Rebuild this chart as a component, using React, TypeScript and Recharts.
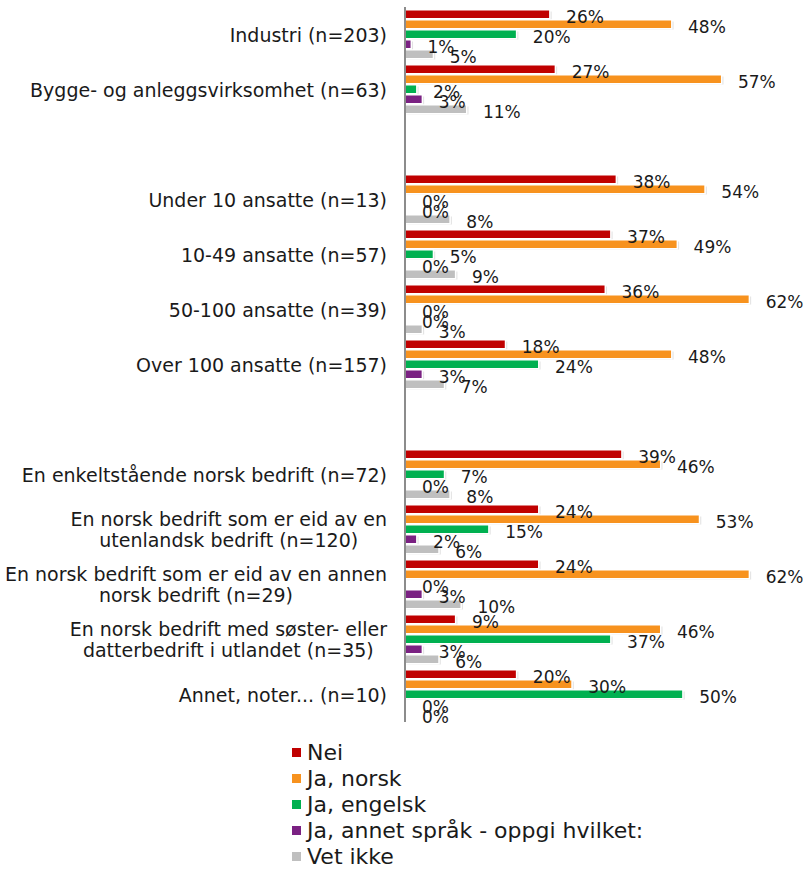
import React from "react";
import { BarChart, Bar, XAxis, YAxis, LabelList } from "recharts";

// Kategorier (tomme rader gir mellomrom mellom gruppene)
const categories = [
  "Industri (n=203)",
  "Bygge- og anleggsvirksomhet (n=63)",
  " ",
  "Under 10 ansatte (n=13)",
  "10-49 ansatte (n=57)",
  "50-100 ansatte (n=39)",
  "Over 100 ansatte (n=157)",
  "  ",
  "En enkeltstående norsk bedrift (n=72)",
  "En norsk bedrift som er eid av en\nutenlandsk bedrift (n=120)",
  "En norsk bedrift som er eid av en annen\nnorsk bedrift (n=29)",
  "En norsk bedrift med søster- eller\ndatterbedrift i utlandet (n=35)",
  "Annet, noter... (n=10)",
];

const nei = [26, 27, null, 38, 37, 36, 18, null, 39, 24, 24, 9, 20];
const jaNorsk = [48, 57, null, 54, 49, 62, 48, null, 46, 53, 62, 46, 30];
const jaEngelsk = [20, 2, null, 0, 5, 0, 24, null, 7, 15, 0, 37, 50];
const jaAnnet = [1, 3, null, 0, 0, 0, 3, null, 0, 2, 3, 3, 0];
const vetIkke = [5, 11, null, 8, 9, 3, 7, null, 8, 6, 10, 6, 0];

const series = [
  { key: "nei", name: "Nei", color: "#C00000", values: nei },
  { key: "jaNorsk", name: "Ja, norsk", color: "#F7921E", values: jaNorsk },
  { key: "jaEngelsk", name: "Ja, engelsk", color: "#00B050", values: jaEngelsk },
  { key: "jaAnnet", name: "Ja, annet språk - oppgi hvilket:", color: "#7A2182", values: jaAnnet },
  { key: "vetIkke", name: "Vet ikke", color: "#BFBFBF", values: vetIkke },
];

const data = categories.map((name, i) => {
  const row: Record<string, any> = { name };
  series.forEach((s) => (row[s.key] = s.values[i]));
  return row;
});

const FONT = "DejaVu Sans, Verdana, sans-serif";
const TEXT = "#1a1a1a";
const TICK_SIZE = 19;

let ctx: CanvasRenderingContext2D | null = null;
const measure = (t: string) => {
  if (!ctx) {
    ctx = document.createElement("canvas").getContext("2d");
    if (ctx) ctx.font = `${TICK_SIZE}px 'DejaVu Sans'`;
  }
  return ctx ? ctx.measureText(t).width : t.length * 11;
};

const CategoryTick = (props: any) => {
  const { x, y, payload } = props;
  const lines = String(payload.value).split("\n");
  if (lines.length === 1) {
    return (
      <text x={x} y={y} textAnchor="end" dominantBaseline="central" fontSize={TICK_SIZE} fontFamily={FONT} fill={TEXT}>
        {lines[0]}
      </text>
    );
  }
  const w = Math.max(...lines.map(measure));
  const cx = x - w / 2;
  return (
    <text x={cx} y={y} textAnchor="middle" fontSize={TICK_SIZE} fontFamily={FONT} fill={TEXT}>
      {lines.map((l, i) => (
        <tspan key={i} x={cx} y={y + (i - (lines.length - 1) / 2) * 21} dominantBaseline="central">
          {l}
        </tspan>
      ))}
    </text>
  );
};

const BarShape = (props: any) => {
  const { x, y, width, height, fill } = props;
  if (width == null || isNaN(width)) return null;
  const w = Math.max(width, 0);
  return (
    <g>
      {w > 0 && <rect x={x + 1.5} y={y + 2} width={w + 1} height={height - 2} fill="#000" opacity={0.12} />}
      {w > 0 && <rect x={x} y={y} width={w + 1.5} height={height} fill="#fff" />}
      {w > 0 && <rect x={x} y={y + 1} width={w} height={height - 2.5} fill={fill} />}
    </g>
  );
};

const ValueLabel = (props: any) => {
  const { x, y, width, height, value } = props;
  if (value == null) return null;
  return (
    <text x={x + width + 17} y={y + height / 2 + 2} dominantBaseline="central" fontSize={17} fontFamily={FONT} fill={TEXT}>
      {`${value}%`}
    </text>
  );
};

export default function App() {
  return (
    <div style={{ position: "absolute", left: 0, top: 0, width: 803, height: 869, background: "#fff" }}>
      <BarChart
        width={803}
        height={735}
        data={data}
        layout="vertical"
        margin={{ top: 7, right: 10, bottom: 13, left: 0 }}
        barCategoryGap={2.5}
        barGap={0}
      >
        <XAxis type="number" domain={[0, 70]} hide />
        <YAxis
          type="category"
          dataKey="name"
          width={405}
          interval={0}
          tickLine={false}
          tickSize={0}
          tickMargin={18}
          axisLine={{ stroke: "#8c8c8c", strokeWidth: 2 }}
          tick={<CategoryTick />}
        />
        {series.map((s) => (
          <Bar key={s.key} dataKey={s.key} name={s.name} fill={s.color} shape={<BarShape />} isAnimationActive={false}>
            <LabelList dataKey={s.key} content={<ValueLabel />} />
          </Bar>
        ))}
      </BarChart>
      <div style={{ position: "absolute", left: 292, top: 739, fontFamily: FONT, fontSize: 22, color: TEXT }}>
        {series.map((s) => (
          <div key={s.key} style={{ display: "flex", alignItems: "center", height: 26.2 }}>
            <span style={{ display: "inline-block", width: 9, height: 9, background: s.color, marginRight: 6 }} />
            <span>{s.name}</span>
          </div>
        ))}
      </div>
    </div>
  );
}
